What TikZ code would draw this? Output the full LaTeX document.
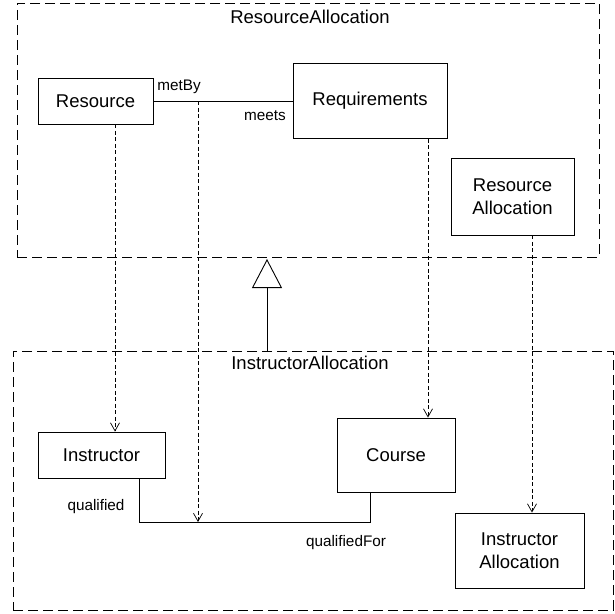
\documentclass[tikz,border=0pt]{standalone}
\usepackage{fontspec}
\setmainfont{Liberation Sans}
\usetikzlibrary{arrows.meta}
\begin{document}
\begin{tikzpicture}[x=1pt,y=-1pt,
    cls/.style={draw, line width=0.9pt, align=center, inner sep=0pt,
      font=\fontsize{18.5}{23}\selectfont},
    pkg/.style={draw, line width=0.9pt, dash pattern=on 10pt off 5pt, inner sep=0pt},
    title/.style={font=\fontsize{18.5}{22}\selectfont},
    role/.style={font=\fontsize{15.3}{18}\selectfont},
    dep/.style={line width=0.7pt, dash pattern=on 4pt off 2.5pt,
      -{Straight Barb[length=8pt,width=9pt]}},
    inh/.style={line width=0.9pt, -{Triangle[open,length=29pt,width=30pt]}}]
  \useasboundingbox (0,0) rectangle (615,613);

  % packages
  \node[pkg, minimum width=582pt, minimum height=254pt] (top) at (308,130) {};
  \node[pkg, minimum width=600pt, minimum height=259pt] (bot) at (313,480.5) {};
  \node[title] (toptitle) at (310,17) {ResourceAllocation};
  \node[title] (bottitle) at (310,363) {InstructorAllocation};

  % classes
  \node[cls, minimum width=115pt, minimum height=46pt] (res) at (95.5,101) {Resource};
  \node[cls, minimum width=154pt, minimum height=75pt] (req) at (370,101) {Requirements};
  \node[cls, minimum width=123pt, minimum height=77pt] (ralloc) at (512.5,196.5) {Resource\\Allocation};
  \node[cls, minimum width=127pt, minimum height=46pt] (ins) at (101.5,455) {Instructor};
  \node[cls, minimum width=118pt, minimum height=74pt] (crs) at (396,455) {Course};
  \node[cls, minimum width=129pt, minimum height=75pt] (ialloc) at (519.5,550.5) {Instructor\\Allocation};

  % associations
  \draw[line width=0.9pt] (res.east) -- (req.west);
  \node[role] (metby) at (179,87) {metBy};
  \node[role] (meets) at (265,116) {meets};

  \coordinate (qa) at (139,522);
  \coordinate (qb) at (370,522);
  \draw[line width=0.9pt] (ins.south -| qa) -- (qa) -- (qb) -- (crs.south -| qb);
  \node[role] (qual) at (96,507) {qualified};
  \node[role] (qualfor) at (346,543) {qualifiedFor};

  % refinement
  \coordinate (am) at (198,101);
  \coordinate (qm) at (198,522);
  \draw[dep] (am) -- (qm);
  \draw[dep] ([xshift=19.5pt]res.south) -- ([xshift=19.5pt]res.south |- ins.north);
  \draw[dep] ([xshift=58pt]req.south) -- ([xshift=58pt]req.south |- crs.north);
  \draw[dep] ([xshift=19.5pt]ralloc.south) -- ([xshift=19.5pt]ralloc.south |- ialloc.north);

  % generalization
  \coordinate (gen) at (267,259);
  \draw[inh] (bot.north -| gen) -- (gen);
\end{tikzpicture}
\end{document}
